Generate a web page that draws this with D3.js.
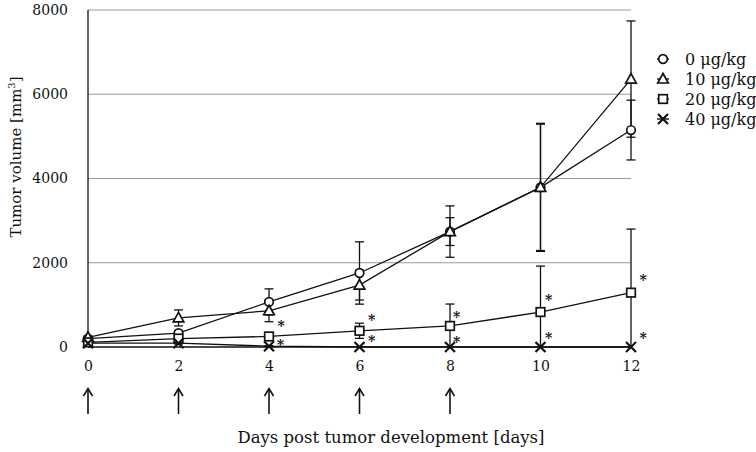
<!DOCTYPE html>
<html><head><meta charset="utf-8">
<script src="https://cdn.jsdelivr.net/npm/d3@7"></script>
<style>body{margin:0;background:#fff}svg{display:block}text{font-family:"DejaVu Serif",serif;fill:#111}</style>
</head><body><svg id="c" width="756" height="452"></svg>
<script>
const days = [0, 2, 4, 6, 8, 10, 12];
const yTicks = [0, 2000, 4000, 6000, 8000];
const doseLabels = ["0 μg/kg", "10 μg/kg", "20 μg/kg", "40 μg/kg"];
const v0 = [200, 330, 1070, 1757, 2740, 3790, 5150];
const e0 = [30, 60, 310, 740, 610, 1520, 710];
const v10 = [230, 690, 860, 1470, 2740, 3790, 6360];
const e10 = [30, 190, 260, 355, 330, 1500, 1380];
const v20 = [110, 200, 250, 385, 500, 830, 1290];
const e20 = [20, 60, 80, 180, 520, 1090, 1510];
const v40 = [90, 90, 20, 0, 0, 0, 0];
const e40 = [20, 20, 10, 0, 0, 0, 0];
const injectionDays = [0, 2, 4, 6, 8];
// significance asterisks (day position, value position)
const starDaysA = [4.27, 6.27, 8.15, 10.18, 12.27];
const starValsA = [570, 710, 780, 1190, 1660];
const starDaysB = [4.25, 6.27, 8.15, 10.18, 12.27];
const starValsB = [120, 210, 190, 280, 280];

const svg = d3.select("#c");
const x = d3.scaleLinear().domain([0, 12]).range([88, 631]);
const y = d3.scaleLinear().domain([0, 8000]).range([347, 10]);

// gridlines
svg.append("g").selectAll("line").data(yTicks.filter(d => d > 0)).join("line")
  .attr("x1", x(0)).attr("x2", x(12)).attr("y1", d => y(d)).attr("y2", d => y(d))
  .attr("stroke", "#9a9a9a").attr("stroke-width", 1);

// y axis
const ya = svg.append("g").attr("transform", `translate(${x(0)},0)`)
  .call(d3.axisLeft(y).tickValues(yTicks).tickSize(0).tickPadding(20).tickFormat(d3.format("d")));
ya.select(".domain").remove();
ya.selectAll("text").style("font-size", "14px").style("font-family", "DejaVu Serif");
svg.append("line").attr("x1", x(0)).attr("x2", x(0)).attr("y1", y(8000)).attr("y2", y(0))
  .attr("stroke", "#111").attr("stroke-width", 1.3);
svg.append("line").attr("x1", x(0)).attr("x2", x(12)).attr("y1", y(0)).attr("y2", y(0))
  .attr("stroke", "#111").attr("stroke-width", 1.3);

// x axis
const xa = svg.append("g").attr("transform", `translate(0,${y(0)})`)
  .call(d3.axisBottom(x).tickValues(days).tickSize(0).tickPadding(14).tickFormat(d3.format("d")));
xa.select(".domain").remove();
xa.selectAll("text").style("font-size", "14px").style("font-family", "DejaVu Serif");

// arrows
const ag = svg.append("g").selectAll("g").data(injectionDays).join("g")
  .attr("transform", d => `translate(${x(d)},0)`);
ag.append("line").attr("x1", 0).attr("x2", 0).attr("y1", 414).attr("y2", 389)
  .attr("stroke", "#111").attr("stroke-width", 1.6);
ag.append("path").attr("d", "M-4.5,396 L0,388.5 L4.5,396").attr("fill", "none")
  .attr("stroke", "#111").attr("stroke-width", 1.6);

// titles
svg.append("text").attr("x", 391).attr("y", 443).attr("text-anchor", "middle")
  .style("font-size", "16.5px").text("Days post tumor development [days]");
const yt = svg.append("text").attr("transform", "translate(21,157) rotate(-90)")
  .attr("text-anchor", "middle").style("font-size", "15px");
yt.append("tspan").text("Tumor volume [mm");
yt.append("tspan").attr("dy", -6).style("font-size", "10px").text("3");
yt.append("tspan").attr("dy", 6).text("]");

const series = [
  {v: v0, e: e0, shape: "circle"},
  {v: v10, e: e10, shape: "triangle"},
  {v: v20, e: e20, shape: "square"},
  {v: v40, e: e40, shape: "cross"}
];
const line = d3.line().x((d, i) => x(days[i])).y(d => y(d));
const capW = 4.5;
series.forEach(s => {
  const g = svg.append("g");
  g.append("path").attr("d", line(s.v)).attr("fill", "none").attr("stroke", "#111").attr("stroke-width", 1.3);
  s.v.forEach((v, i) => {
    if (s.e[i] <= 0) return;
    const hi = v + s.e[i], lo = Math.max(0, v - s.e[i]);
    const cx = x(days[i]);
    g.append("line").attr("x1", cx).attr("x2", cx).attr("y1", y(hi)).attr("y2", y(lo)).attr("stroke", "#111").attr("stroke-width", 1.3);
    g.append("line").attr("x1", cx - capW).attr("x2", cx + capW).attr("y1", y(hi)).attr("y2", y(hi)).attr("stroke", "#111").attr("stroke-width", 1.3);
    if (lo > 0) g.append("line").attr("x1", cx - capW).attr("x2", cx + capW).attr("y1", y(lo)).attr("y2", y(lo)).attr("stroke", "#111").attr("stroke-width", 1.3);
  });
});

function marker(g, shape, cx, cy) {
  if (shape === "circle") g.append("circle").attr("cx", cx).attr("cy", cy).attr("r", 4.3).attr("fill", "#fff").attr("stroke", "#111").attr("stroke-width", 1.7);
  if (shape === "triangle") g.append("path").attr("d", `M${cx},${cy - 5.5} L${cx + 5.3},${cy + 4} L${cx - 5.3},${cy + 4} Z`).attr("fill", "#fff").attr("stroke", "#111").attr("stroke-width", 1.7);
  if (shape === "square") g.append("rect").attr("x", cx - 4.3).attr("y", cy - 4.3).attr("width", 8.6).attr("height", 8.6).attr("fill", "#fff").attr("stroke", "#111").attr("stroke-width", 1.7);
  if (shape === "cross") g.append("path").attr("d", `M${cx - 5},${cy - 5} L${cx + 5},${cy + 5} M${cx - 5},${cy + 5} L${cx + 5},${cy - 5}`).attr("stroke", "#111").attr("stroke-width", 2.2);
}
series.forEach(s => {
  const g = svg.append("g");
  s.v.forEach((v, i) => marker(g, s.shape, x(days[i]), y(v)));
});

// asterisks
const stars = starDaysA.map((d, i) => [d, starValsA[i]]).concat(starDaysB.map((d, i) => [d, starValsB[i]]));
svg.append("g").selectAll("text").data(stars).join("text")
  .attr("x", d => x(d[0])).attr("y", d => y(d[1]) + 7.7).attr("text-anchor", "middle")
  .style("font-size", "14px").style("font-weight", "bold").text("*");

// legend
const lg = svg.append("g").selectAll("g").data(doseLabels).join("g")
  .attr("transform", (d, i) => `translate(663,${59 + i * 20})`);
lg.each(function(d, i) {
  const g = d3.select(this);
  g.append("line").attr("x1", -6).attr("x2", 6).attr("y1", 0).attr("y2", 0).attr("stroke", "#111").attr("stroke-width", 1.4);
  marker(g, series[i].shape, 0, 0);
});
lg.append("text").attr("x", 22).attr("y", 5.5).style("font-size", "16px").text(d => d);
</script></body></html>
